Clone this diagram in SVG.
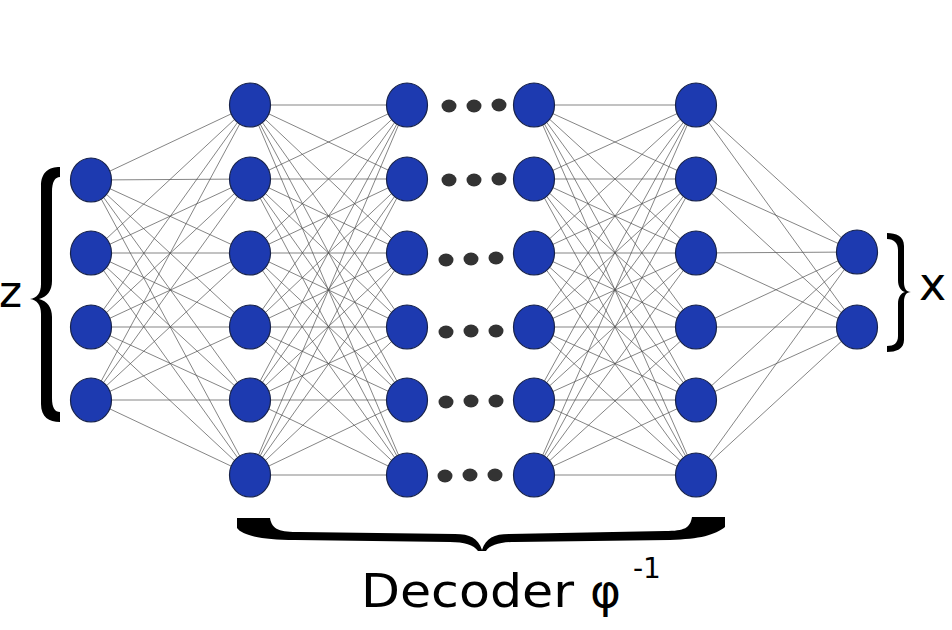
<svg xmlns="http://www.w3.org/2000/svg" width="952" height="630" viewBox="0 0 952 630">
<style>
.n{fill:#1d3ab0;stroke:#17224a;stroke-width:1.2}
.d{fill:#333333}
.e line{stroke:#505050;stroke-width:0.7}
.t{font-family:"DejaVu Sans","Verdana",sans-serif;fill:#000000}
.b{fill:#000000}
</style>
<rect width="952" height="630" fill="#ffffff"/>
<g id="connectors" class="e">
<line x1="91" y1="180" x2="250" y2="105"/><line x1="91" y1="180" x2="250" y2="179"/><line x1="91" y1="180" x2="250" y2="253"/><line x1="91" y1="180" x2="250" y2="327"/><line x1="91" y1="180" x2="250" y2="400"/><line x1="91" y1="180" x2="250" y2="475"/>
<line x1="91" y1="253" x2="250" y2="105"/><line x1="91" y1="253" x2="250" y2="179"/><line x1="91" y1="253" x2="250" y2="253"/><line x1="91" y1="253" x2="250" y2="327"/><line x1="91" y1="253" x2="250" y2="400"/><line x1="91" y1="253" x2="250" y2="475"/>
<line x1="91" y1="327" x2="250" y2="105"/><line x1="91" y1="327" x2="250" y2="179"/><line x1="91" y1="327" x2="250" y2="253"/><line x1="91" y1="327" x2="250" y2="327"/><line x1="91" y1="327" x2="250" y2="400"/><line x1="91" y1="327" x2="250" y2="475"/>
<line x1="91" y1="400" x2="250" y2="105"/><line x1="91" y1="400" x2="250" y2="179"/><line x1="91" y1="400" x2="250" y2="253"/><line x1="91" y1="400" x2="250" y2="327"/><line x1="91" y1="400" x2="250" y2="400"/><line x1="91" y1="400" x2="250" y2="475"/>
<line x1="250" y1="105" x2="407" y2="105"/><line x1="250" y1="105" x2="407" y2="179"/><line x1="250" y1="105" x2="407" y2="253"/><line x1="250" y1="105" x2="407" y2="327"/><line x1="250" y1="105" x2="407" y2="400"/><line x1="250" y1="105" x2="407" y2="475"/>
<line x1="250" y1="179" x2="407" y2="105"/><line x1="250" y1="179" x2="407" y2="179"/><line x1="250" y1="179" x2="407" y2="253"/><line x1="250" y1="179" x2="407" y2="327"/><line x1="250" y1="179" x2="407" y2="400"/><line x1="250" y1="179" x2="407" y2="475"/>
<line x1="250" y1="253" x2="407" y2="105"/><line x1="250" y1="253" x2="407" y2="179"/><line x1="250" y1="253" x2="407" y2="253"/><line x1="250" y1="253" x2="407" y2="327"/><line x1="250" y1="253" x2="407" y2="400"/><line x1="250" y1="253" x2="407" y2="475"/>
<line x1="250" y1="327" x2="407" y2="105"/><line x1="250" y1="327" x2="407" y2="179"/><line x1="250" y1="327" x2="407" y2="253"/><line x1="250" y1="327" x2="407" y2="327"/><line x1="250" y1="327" x2="407" y2="400"/><line x1="250" y1="327" x2="407" y2="475"/>
<line x1="250" y1="400" x2="407" y2="105"/><line x1="250" y1="400" x2="407" y2="179"/><line x1="250" y1="400" x2="407" y2="253"/><line x1="250" y1="400" x2="407" y2="327"/><line x1="250" y1="400" x2="407" y2="400"/><line x1="250" y1="400" x2="407" y2="475"/>
<line x1="250" y1="475" x2="407" y2="105"/><line x1="250" y1="475" x2="407" y2="179"/><line x1="250" y1="475" x2="407" y2="253"/><line x1="250" y1="475" x2="407" y2="327"/><line x1="250" y1="475" x2="407" y2="400"/><line x1="250" y1="475" x2="407" y2="475"/>
<line x1="534" y1="105" x2="696" y2="105"/><line x1="534" y1="105" x2="696" y2="179"/><line x1="534" y1="105" x2="696" y2="253"/><line x1="534" y1="105" x2="696" y2="327"/><line x1="534" y1="105" x2="696" y2="400"/><line x1="534" y1="105" x2="696" y2="475"/>
<line x1="534" y1="179" x2="696" y2="105"/><line x1="534" y1="179" x2="696" y2="179"/><line x1="534" y1="179" x2="696" y2="253"/><line x1="534" y1="179" x2="696" y2="327"/><line x1="534" y1="179" x2="696" y2="400"/><line x1="534" y1="179" x2="696" y2="475"/>
<line x1="534" y1="253" x2="696" y2="105"/><line x1="534" y1="253" x2="696" y2="179"/><line x1="534" y1="253" x2="696" y2="253"/><line x1="534" y1="253" x2="696" y2="327"/><line x1="534" y1="253" x2="696" y2="400"/><line x1="534" y1="253" x2="696" y2="475"/>
<line x1="534" y1="327" x2="696" y2="105"/><line x1="534" y1="327" x2="696" y2="179"/><line x1="534" y1="327" x2="696" y2="253"/><line x1="534" y1="327" x2="696" y2="327"/><line x1="534" y1="327" x2="696" y2="400"/><line x1="534" y1="327" x2="696" y2="475"/>
<line x1="534" y1="400" x2="696" y2="105"/><line x1="534" y1="400" x2="696" y2="179"/><line x1="534" y1="400" x2="696" y2="253"/><line x1="534" y1="400" x2="696" y2="327"/><line x1="534" y1="400" x2="696" y2="400"/><line x1="534" y1="400" x2="696" y2="475"/>
<line x1="534" y1="475" x2="696" y2="105"/><line x1="534" y1="475" x2="696" y2="179"/><line x1="534" y1="475" x2="696" y2="253"/><line x1="534" y1="475" x2="696" y2="327"/><line x1="534" y1="475" x2="696" y2="400"/><line x1="534" y1="475" x2="696" y2="475"/>
<line x1="696" y1="105" x2="857" y2="252"/><line x1="696" y1="105" x2="857" y2="327"/>
<line x1="696" y1="179" x2="857" y2="252"/><line x1="696" y1="179" x2="857" y2="327"/>
<line x1="696" y1="253" x2="857" y2="252"/><line x1="696" y1="253" x2="857" y2="327"/>
<line x1="696" y1="327" x2="857" y2="252"/><line x1="696" y1="327" x2="857" y2="327"/>
<line x1="696" y1="400" x2="857" y2="252"/><line x1="696" y1="400" x2="857" y2="327"/>
<line x1="696" y1="475" x2="857" y2="252"/><line x1="696" y1="475" x2="857" y2="327"/>
</g>
<g id="layer0">
<g id="n0_0"><ellipse class="n" cx="91" cy="180" rx="20.5" ry="22"/></g>
<g id="n0_1"><ellipse class="n" cx="91" cy="253" rx="20.5" ry="22"/></g>
<g id="n0_2"><ellipse class="n" cx="91" cy="327" rx="20.5" ry="22"/></g>
<g id="n0_3"><ellipse class="n" cx="91" cy="400" rx="20.5" ry="22"/></g>
</g>
<g id="layer1">
<g id="n1_0"><ellipse class="n" cx="250" cy="105" rx="20.5" ry="22"/></g>
<g id="n1_1"><ellipse class="n" cx="250" cy="179" rx="20.5" ry="22"/></g>
<g id="n1_2"><ellipse class="n" cx="250" cy="253" rx="20.5" ry="22"/></g>
<g id="n1_3"><ellipse class="n" cx="250" cy="327" rx="20.5" ry="22"/></g>
<g id="n1_4"><ellipse class="n" cx="250" cy="400" rx="20.5" ry="22"/></g>
<g id="n1_5"><ellipse class="n" cx="250" cy="475" rx="20.5" ry="22"/></g>
</g>
<g id="layer2">
<g id="n2_0"><ellipse class="n" cx="407" cy="105" rx="20.5" ry="22"/></g>
<g id="n2_1"><ellipse class="n" cx="407" cy="179" rx="20.5" ry="22"/></g>
<g id="n2_2"><ellipse class="n" cx="407" cy="253" rx="20.5" ry="22"/></g>
<g id="n2_3"><ellipse class="n" cx="407" cy="327" rx="20.5" ry="22"/></g>
<g id="n2_4"><ellipse class="n" cx="407" cy="400" rx="20.5" ry="22"/></g>
<g id="n2_5"><ellipse class="n" cx="407" cy="475" rx="20.5" ry="22"/></g>
</g>
<g id="layer3">
<g id="n3_0"><ellipse class="n" cx="534" cy="105" rx="20.5" ry="22"/></g>
<g id="n3_1"><ellipse class="n" cx="534" cy="179" rx="20.5" ry="22"/></g>
<g id="n3_2"><ellipse class="n" cx="534" cy="253" rx="20.5" ry="22"/></g>
<g id="n3_3"><ellipse class="n" cx="534" cy="327" rx="20.5" ry="22"/></g>
<g id="n3_4"><ellipse class="n" cx="534" cy="400" rx="20.5" ry="22"/></g>
<g id="n3_5"><ellipse class="n" cx="534" cy="475" rx="20.5" ry="22"/></g>
</g>
<g id="layer4">
<g id="n4_0"><ellipse class="n" cx="696" cy="105" rx="20.5" ry="22"/></g>
<g id="n4_1"><ellipse class="n" cx="696" cy="179" rx="20.5" ry="22"/></g>
<g id="n4_2"><ellipse class="n" cx="696" cy="253" rx="20.5" ry="22"/></g>
<g id="n4_3"><ellipse class="n" cx="696" cy="327" rx="20.5" ry="22"/></g>
<g id="n4_4"><ellipse class="n" cx="696" cy="400" rx="20.5" ry="22"/></g>
<g id="n4_5"><ellipse class="n" cx="696" cy="475" rx="20.5" ry="22"/></g>
</g>
<g id="layer5">
<g id="n5_0"><ellipse class="n" cx="857" cy="252" rx="20.5" ry="22"/></g>
<g id="n5_1"><ellipse class="n" cx="857" cy="327" rx="20.5" ry="22"/></g>
</g>
<g id="ellipsis-dots">
<ellipse class="d" cx="449" cy="106" rx="7.5" ry="6.5"/><ellipse class="d" cx="474" cy="106" rx="7.5" ry="6.5"/><ellipse class="d" cx="499" cy="105" rx="7.5" ry="6.5"/>
<ellipse class="d" cx="449" cy="180" rx="7.5" ry="6.5"/><ellipse class="d" cx="474" cy="180" rx="7.5" ry="6.5"/><ellipse class="d" cx="499" cy="179" rx="7.5" ry="6.5"/>
<ellipse class="d" cx="446" cy="260" rx="7.5" ry="6.5"/><ellipse class="d" cx="471" cy="259" rx="7.5" ry="6.5"/><ellipse class="d" cx="496" cy="258" rx="7.5" ry="6.5"/>
<ellipse class="d" cx="446" cy="332" rx="7.5" ry="6.5"/><ellipse class="d" cx="471" cy="331" rx="7.5" ry="6.5"/><ellipse class="d" cx="496" cy="331" rx="7.5" ry="6.5"/>
<ellipse class="d" cx="446" cy="402" rx="7.5" ry="6.5"/><ellipse class="d" cx="471" cy="401" rx="7.5" ry="6.5"/><ellipse class="d" cx="496" cy="401" rx="7.5" ry="6.5"/>
<ellipse class="d" cx="445" cy="476" rx="7.5" ry="6.5"/><ellipse class="d" cx="470" cy="475" rx="7.5" ry="6.5"/><ellipse class="d" cx="495" cy="475" rx="7.5" ry="6.5"/>
</g>
<g id="brace-z">
<path class="b" d="M60 167 C49 167 41 172 41 186 L41 284 C41 293 37 298 30 299 C37 300 41 305 41 314 L41 404 C41 417 49 422 60 422 L60 412 C55 412 52 408 52 398 L52 317 C52 307 47 301 39 299 C47 297 52 291 52 281 L52 192 C52 182 55 177 60 177 Z"/>
</g>
<g id="brace-x">
<path class="b" d="M887 233 C896 233 904 236 904 246 L904 282 C904 288 906 292 911 292 C906 292 904 296 904 302 L904 340 C904 349 896 352 887 352 L887 346 C894 346 898 343 898 336 L898 304 C898 297 901 293 905 292 C901 291 898 287 898 280 L898 250 C898 243 894 239 887 239 Z"/>
</g>
<g id="brace-decoder">
<path class="b" d="M237 518 L270 518 C272 530 280 532 300 532 L455 534 C470 534 478 538 482 550 C486 538 494 534 509 534 L665 531 C685 531 690 528 692 517 L725 517 L725 527 C715 535 700 539 670 540 L515 542 C500 542 490 545 486 551 L478 551 C474 545 464 542 450 542 L295 540 C260 540 242 535 237 528 Z"/>
</g>
<g id="labels">
<text class="t" x="-1" y="307" font-size="44">z</text>
<text class="t" x="919" y="300" font-size="46">x</text>
<text class="t" y="607" font-size="47"><tspan x="361" textLength="213" lengthAdjust="spacingAndGlyphs">Decoder</tspan> <tspan x="590">φ</tspan></text>
<text class="t" x="633" y="578" font-size="28">-1</text>
</g>
</svg>
